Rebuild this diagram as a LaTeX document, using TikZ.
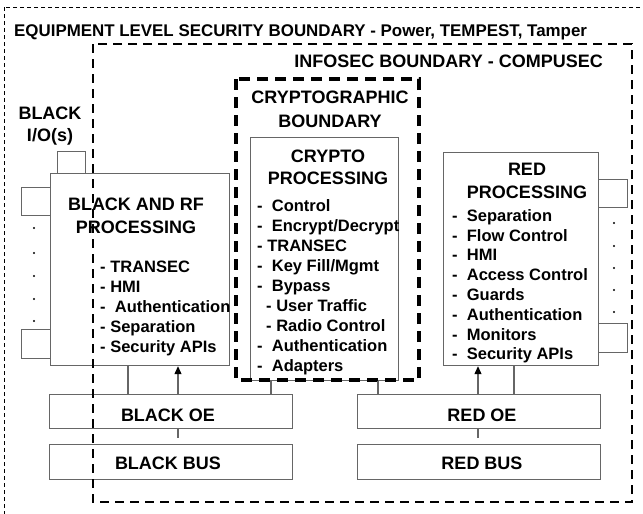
\documentclass[tikz,border=0pt]{standalone}
\usepackage{fontspec}
\setmainfont{Liberation Sans}
\usetikzlibrary{arrows.meta}
\begin{document}
\begin{tikzpicture}[x=1pt,y=-1pt,
  box/.style={draw=black!60, line width=1.2pt, inner sep=0pt, anchor=north west},
  conn/.style={draw=black!60, line width=1.1pt},
  arr/.style={draw=black!60, line width=1.1pt, -{Triangle[width=7pt,length=8pt,fill=black,color=black]}},
  ttl/.style={font=\fontsize{18}{22}\selectfont\bfseries, inner sep=0pt, anchor=base},
  itm/.style={font=\fontsize{16.5}{20}\selectfont\bfseries, inner sep=0pt, anchor=base west},
  dotm/.style={fill=black}]
\useasboundingbox (0,0) rectangle (643,514);
\clip (0,0) rectangle (643,514);
% boxes
\node[box, minimum width=179pt, minimum height=192pt] (blk) at (50,173) {};
\node[box, minimum width=148pt, minimum height=243pt] (crypto) at (250,137) {};
\node[box, minimum width=155pt, minimum height=213pt] (red) at (443,152) {};
\node[box, minimum width=243pt, minimum height=34pt] (blkoe) at (49,394) {};
\node[box, minimum width=243pt, minimum height=35pt] (blkbus) at (49,444) {};
\node[box, minimum width=243pt, minimum height=34pt] (redoe) at (357,394) {};
\node[box, minimum width=243pt, minimum height=35pt] (redbus) at (357,444) {};
% I/O squares
\node[box, minimum width=28pt, minimum height=22pt] (io1) at (57,151) {};
\node[box, minimum width=29pt, minimum height=28pt] (io2) at (21,187) {};
\node[box, minimum width=29pt, minimum height=29pt] (io3) at (21,329) {};
\node[box, minimum width=29pt, minimum height=28pt] (rio1) at (598,179) {};
\node[box, minimum width=29pt, minimum height=29pt] (rio2) at (598,323) {};
\foreach \yy in {228,253,276,299,321} \fill[dotm] (34,\yy) circle (1.2pt);
\foreach \yy in {223,246,268,290,312} \fill[dotm] (614,\yy) circle (1.2pt);
% boundaries
\draw[black, line width=0.9pt, dash pattern=on 4pt off 3pt] (4,7) rectangle (660,530);
\draw[black, line width=2.5pt, dash pattern=on 9pt off 6pt] (93,44) rectangle (632,502);
\draw[black, line width=4pt, dash pattern=on 11pt off 7pt] (236,79) rectangle (419,380);
% connectors
\coordinate (xa) at (128,0);
\coordinate (xb) at (178,0);
\coordinate (xc) at (271,0);
\coordinate (xd) at (378,0);
\coordinate (xe) at (478,0);
\coordinate (xf) at (514,0);
\draw[conn] (xa |- blkoe.north) -- (xa |- blk.south);
\draw[arr] (xb |- blkoe.north) -- (xb |- blk.south);
\draw[conn] (xc |- blkoe.north) -- (xc |- crypto.south);
\draw[conn] (xd |- redoe.north) -- (xd |- crypto.south);
\draw[arr] (xe |- redoe.north) -- (xe |- red.south);
\draw[conn] (xf |- redoe.north) -- (xf |- red.south);
\draw[conn, shorten >=6pt] (xb |- blkoe.south) -- (xb |- blkbus.north);
\draw[conn, shorten >=6pt] (xe |- redoe.south) -- (xe |- redbus.north);
% titles
\node[font=\fontsize{16.9}{20}\selectfont\bfseries, inner sep=0pt, anchor=base west] (t1) at (14,36) {EQUIPMENT LEVEL SECURITY BOUNDARY - Power, TEMPEST, Tamper};
\node[ttl, anchor=base east] (t2) at (603,67) {INFOSEC BOUNDARY - COMPUSEC};
\node[ttl] (t3a) at (330,103) {CRYPTOGRAPHIC};
\node[ttl] (t3b) at (330,127) {BOUNDARY};
\node[ttl] (t4a) at (50,119) {BLACK};
\node[ttl] (t4b) at (50,141) {I/O(s)};
\node[ttl] (t5a) at (136,210) {BLACK AND RF};
\node[ttl] (t5b) at (136,233) {PROCESSING};
\node[ttl] (t6a) at (328,162) {CRYPTO};
\node[ttl] (t6b) at (328,184) {PROCESSING};
\node[ttl] (t7a) at (527,175) {RED};
\node[ttl] (t7b) at (527,198) {PROCESSING};
\node[ttl] (t8) at (168,421) {BLACK OE};
\node[ttl] (t9) at (482,421) {RED OE};
\node[ttl] (t10) at (168,469) {BLACK BUS};
\node[ttl] (t11) at (482,469) {RED BUS};
% items
\node[itm] (b1) at (100,272) {- TRANSEC};
\node[itm] (b2) at (100,292) {- HMI};
\node[itm] (b3) at (100,312) {-\ \ Authentication};
\node[itm] (b4) at (100,332) {- Separation};
\node[itm] (b5) at (100,352) {- Security APIs};
\node[itm] (c1) at (257,211) {-\ \ Control};
\node[itm] (c2) at (257,231) {-\ \ Encrypt/Decrypt};
\node[itm] (c3) at (257,251) {- TRANSEC};
\node[itm] (c4) at (257,271) {-\ \ Key Fill/Mgmt};
\node[itm] (c5) at (257,291) {-\ \ Bypass};
\node[itm] (c6) at (266,311) {- User Traffic};
\node[itm] (c7) at (266,331) {- Radio Control};
\node[itm] (c8) at (257,351) {-\ \ Authentication};
\node[itm] (c9) at (257,371) {-\ \ Adapters};
\node[itm] (r1) at (452,221) {-\ \ Separation};
\node[itm] (r2) at (452,241) {-\ \ Flow Control};
\node[itm] (r3) at (452,260) {-\ \ HMI};
\node[itm] (r4) at (452,280) {-\ \ Access Control};
\node[itm] (r5) at (452,300) {-\ \ Guards};
\node[itm] (r6) at (452,320) {-\ \ Authentication};
\node[itm] (r7) at (452,340) {-\ \ Monitors};
\node[itm] (r8) at (452,359) {-\ \ Security APIs};
\end{tikzpicture}
\end{document}
